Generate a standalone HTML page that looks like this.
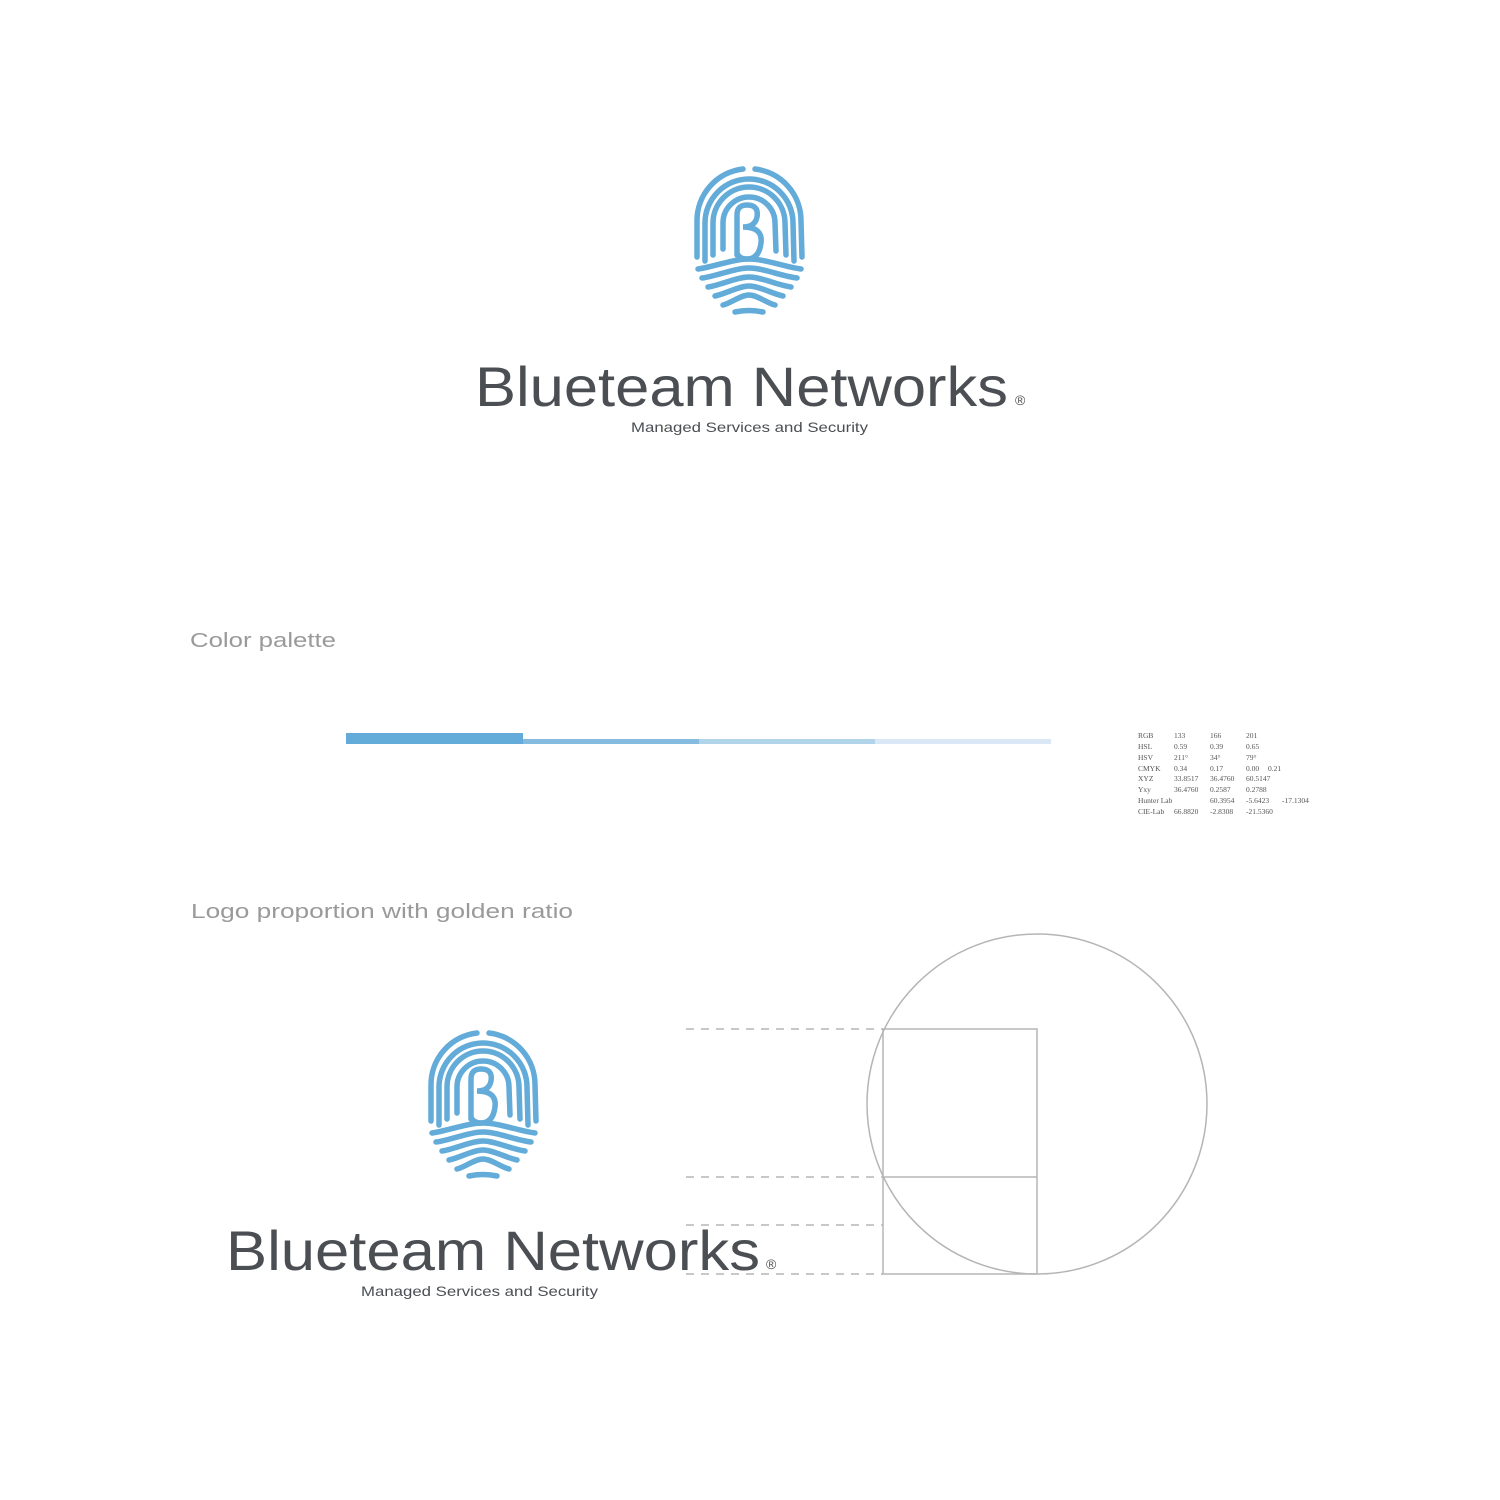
<!DOCTYPE html>
<html><head><meta charset="utf-8"><style>
html,body{margin:0;padding:0;background:#fff;}
svg{display:block}
</style></head><body>
<svg width="1500" height="1500" viewBox="0 0 1500 1500" xmlns="http://www.w3.org/2000/svg">
<defs>
<g id="fp" fill="none" stroke="#63abd8" stroke-width="5.5" stroke-linecap="round">
<path d="M4,92 L4,56 A52,52 0 0 1 50,4"/>
<path d="M62,4 A52,52 0 0 1 108,56 L109,92"/>
<path d="M12,96 L12,58 A44,44 0 0 1 100,58 L101,96"/>
<path d="M20,90 L20,58 A36,36 0 0 1 92,58 L93,90"/>
<path d="M30,84 L30,58 A26,26 0 0 1 82,58 L83,86"/>
<path d="M44,90 L44,50 Q44,40 54,40 Q66,40 64,52 Q62,62 50,62 Q70,62 68,78 Q66,94 54,94 Q46,94 44,88"/>
<path d="M5,104 C20,102 40,94 56,94 C72,94 92,102 108,104"/>
<path d="M9,113 C24,111 42,103 56,103 C70,103 88,111 104,113"/>
<path d="M15,122 C28,120 44,112 56,112 C68,112 84,120 98,122"/>
<path d="M22,131 C32,129 46,121 56,121 C66,121 80,129 90,131"/>
<path d="M30,140 C38,138 48,130 56,130 C64,130 74,138 82,140"/>
<path d="M42,147 Q56,144 70,147"/>
</g>
</defs>

<use href="#fp" transform="translate(693,165)"/>
<text x="475" y="406" font-family="Liberation Sans, sans-serif" font-size="56" fill="#4b4f53" textLength="533" lengthAdjust="spacingAndGlyphs">Blueteam Networks</text>
<text x="1015" y="405" font-family="Liberation Sans, sans-serif" font-size="14" fill="#4b4f53">®</text>
<text x="631" y="432" font-family="Liberation Sans, sans-serif" font-size="14" fill="#4b4f53" textLength="237" lengthAdjust="spacingAndGlyphs">Managed Services and Security</text>

<text x="190" y="647" font-family="Liberation Sans, sans-serif" font-size="20" fill="#9a9a9a" textLength="146" lengthAdjust="spacingAndGlyphs">Color palette</text>

<rect x="346" y="733" width="177" height="11" fill="#63abd8"/>
<rect x="523" y="739" width="176" height="5" fill="#86bbe0"/>
<rect x="699" y="739" width="176" height="5" fill="#b2d4ea"/>
<rect x="875" y="739" width="176" height="5" fill="#d9e8f4"/>

<g font-family="Liberation Serif, serif" font-size="7.5" fill="#555">
<text x="1138" y="738">RGB</text><text x="1174" y="738">133</text><text x="1210" y="738">166</text><text x="1246" y="738">201</text>
<text x="1138" y="749">HSL</text><text x="1174" y="749">0.59</text><text x="1210" y="749">0.39</text><text x="1246" y="749">0.65</text>
<text x="1138" y="760">HSV</text><text x="1174" y="760">211°</text><text x="1210" y="760">34°</text><text x="1246" y="760">79°</text>
<text x="1138" y="771">CMYK</text><text x="1174" y="771">0.34</text><text x="1210" y="771">0.17</text><text x="1246" y="771">0.00</text><text x="1268" y="771">0.21</text>
<text x="1138" y="781">XYZ</text><text x="1174" y="781">33.8517</text><text x="1210" y="781">36.4760</text><text x="1246" y="781">60.5147</text>
<text x="1138" y="792">Yxy</text><text x="1174" y="792">36.4760</text><text x="1210" y="792">0.2587</text><text x="1246" y="792">0.2788</text>
<text x="1138" y="803">Hunter Lab</text><text x="1210" y="803">60.3954</text><text x="1246" y="803">-5.6423</text><text x="1282" y="803">-17.1304</text>
<text x="1138" y="814">CIE-Lab</text><text x="1174" y="814">66.8820</text><text x="1210" y="814">-2.8308</text><text x="1246" y="814">-21.5360</text>
</g>

<text x="191" y="918" font-family="Liberation Sans, sans-serif" font-size="20" fill="#9a9a9a" textLength="382" lengthAdjust="spacingAndGlyphs">Logo proportion with golden ratio</text>

<use href="#fp" transform="translate(427,1029)"/>
<text x="226" y="1270" font-family="Liberation Sans, sans-serif" font-size="56" fill="#4b4f53" textLength="534" lengthAdjust="spacingAndGlyphs">Blueteam Networks</text>
<text x="766" y="1269" font-family="Liberation Sans, sans-serif" font-size="14" fill="#4b4f53">®</text>
<text x="361" y="1296" font-family="Liberation Sans, sans-serif" font-size="14" fill="#4b4f53" textLength="237" lengthAdjust="spacingAndGlyphs">Managed Services and Security</text>

<g stroke="#b5b5b5" stroke-width="1.5" fill="none">
<circle cx="1037" cy="1104" r="170"/>
<rect x="883" y="1029" width="154" height="245"/>
<line x1="883" y1="1177" x2="1037" y2="1177"/>
<g stroke-dasharray="8,7">
<line x1="686" y1="1029" x2="883" y2="1029"/>
<line x1="686" y1="1177" x2="883" y2="1177"/>
<line x1="686" y1="1225" x2="883" y2="1225"/>
<line x1="686" y1="1274" x2="883" y2="1274"/>
</g>
</g>
</svg>
</body></html>
